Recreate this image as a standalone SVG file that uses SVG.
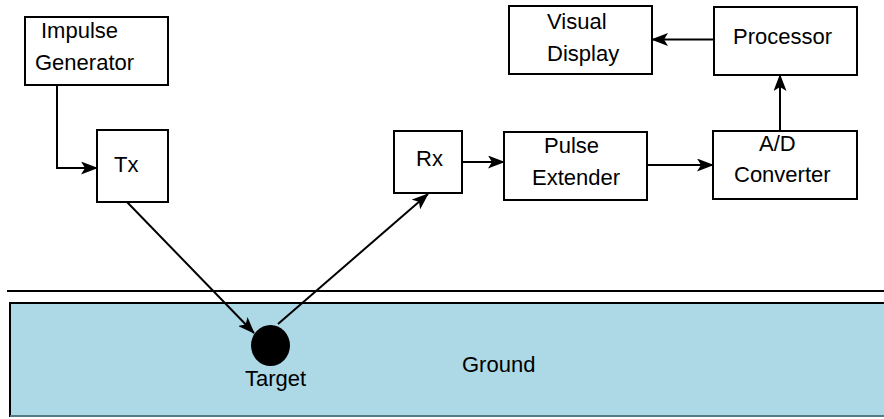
<svg xmlns="http://www.w3.org/2000/svg" width="884" height="419" viewBox="0 0 884 419">
<style>
.box{fill:#fff;stroke:#000;stroke-width:2}
.t{font-family:"Liberation Sans",Arial,sans-serif;font-size:22px;fill:#000}
.c{fill:none;stroke:#000;stroke-width:2}
</style>
<defs>
<marker id="ah" viewBox="0 0 17 13" refX="16" refY="6.5" markerWidth="17" markerHeight="13" markerUnits="userSpaceOnUse" orient="auto">
<path d="M0,0 L17,6.5 L0,13 L4,6.5 z" fill="#000"/>
</marker>
</defs>
<g id="ground">
<rect x="10" y="303" width="880" height="113" fill="#add8e6"/>
<line x1="9" y1="303" x2="884" y2="303" stroke="#000" stroke-width="2"/>
<line x1="10" y1="302" x2="10" y2="417" stroke="#000" stroke-width="2"/>
<line x1="10" y1="416" x2="884" y2="416" stroke="#557a84" stroke-width="2"/>
<text class="t" x="462" y="372">Ground</text>
</g>
<line id="surface" x1="7" y1="291" x2="884" y2="291" stroke="#000" stroke-width="2"/>
<g id="target">
<ellipse cx="270.5" cy="345.5" rx="19.5" ry="20.5" fill="#000"/>
<text class="t" x="245" y="386">Target</text>
</g>
<g id="impulse">
<rect class="box" x="25" y="17" width="143" height="68"/>
<text class="t" x="41" y="38">Impulse</text>
<text class="t" x="35" y="70">Generator</text>
</g>
<g id="tx">
<rect class="box" x="97" y="130" width="71" height="72"/>
<text class="t" x="114" y="172">Tx</text>
</g>
<g id="rx">
<rect class="box" x="394" y="131" width="68" height="62"/>
<text class="t" x="416" y="166">Rx</text>
</g>
<g id="pulse">
<rect class="box" x="504" y="132" width="143" height="68"/>
<text class="t" x="544" y="153">Pulse</text>
<text class="t" x="532" y="185">Extender</text>
</g>
<g id="adc">
<rect class="box" x="713" y="131" width="144" height="68"/>
<text class="t" x="759" y="151">A/D</text>
<text class="t" x="734" y="182">Converter</text>
</g>
<g id="processor">
<rect class="box" x="714" y="7" width="143" height="68"/>
<text class="t" x="733" y="44">Processor</text>
</g>
<g id="display">
<rect class="box" x="509" y="6" width="143" height="68"/>
<text class="t" x="547" y="29">Visual</text>
<text class="t" x="547" y="61">Display</text>
</g>
<g id="connectors">
<path class="c" d="M57,85 V168 H97" marker-end="url(#ah)"/>
<path class="c" d="M127,202 L254,333" marker-end="url(#ah)"/>
<path class="c" d="M278,324 L428,194" marker-end="url(#ah)"/>
<path class="c" d="M462,162 H504" marker-end="url(#ah)"/>
<path class="c" d="M647,165 H713" marker-end="url(#ah)"/>
<path class="c" d="M780,131 V75" marker-end="url(#ah)"/>
<path class="c" d="M714,39.5 H652" marker-end="url(#ah)"/>
</g>
</svg>
